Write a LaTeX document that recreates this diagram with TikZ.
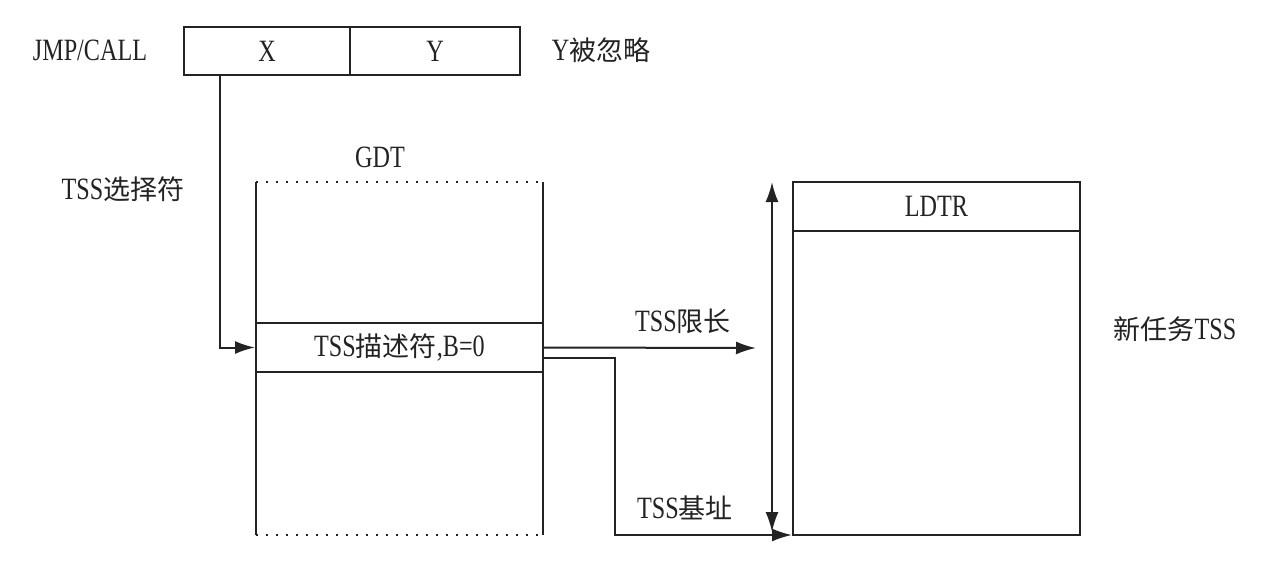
\documentclass[tikz,border=0pt]{standalone}
\usepackage{fontspec}
\setmainfont[FakeStretch=0.78]{Liberation Serif}
\newfontfamily\cjkfont{Noto Sans CJK SC}
\newcommand\zhtxt[1]{{\cjkfont\fontsize{27}{30}\selectfont #1}}
\usetikzlibrary{arrows.meta}
\definecolor{ink}{RGB}{35,35,35}
\begin{document}
\begin{tikzpicture}[x=1pt,y=-1pt,
  lbl/.style={font=\fontsize{31}{34}\selectfont, text=ink, inner sep=0pt},
  boxcell/.style={draw=ink, line width=2pt, minimum height=48pt, inner sep=0pt, font=\fontsize{31}{34}\selectfont, text=ink},
  region/.style={inner sep=0pt, minimum width=287pt, minimum height=353pt},
  conn/.style={draw=ink, line width=2pt},
  arr/.style={conn, -{Latex[length=20pt,width=13pt]}},
  darr/.style={conn, {Latex[length=20pt,width=13pt]}-{Latex[length=20pt,width=13pt]}},
  dotline/.style={draw=ink, line width=2pt, dash pattern=on 2pt off 8pt}
]
\useasboundingbox (0,0) rectangle (1274,566);
\fill[white] (0,0) rectangle (1274,566);

% selector
\node[lbl] (jmp) at (90,50) {JMP/CALL};
\node[boxcell, minimum width=166pt] (selX) at (267,51) {X};
\node[boxcell, minimum width=170pt] (selY) at (435,51) {Y};
\node[lbl] (ign) at (601,50) {Y\zhtxt{被忽略}};

% GDT
\node[lbl] (gdtlbl) at (380,157) {GDT};
\node[region] (gdt) at (399.5,358.5) {};
\draw[conn] (gdt.north west) -- (gdt.south west);
\draw[conn] (gdt.north east) -- (gdt.south east);
\draw[dotline] (gdt.north west) -- (gdt.north east);
\draw[dotline] (gdt.south west) -- (gdt.south east);
\node[boxcell, minimum width=287pt, minimum height=49pt] (desc) at (399.5,347.5) {TSS\zhtxt{描述符},B=0};

\node[lbl] (sellbl) at (123,189) {TSS\zhtxt{选择符}};

% new TSS
\node[region, draw=ink, line width=2pt] (tss) at (936.5,358.5) {};
\node[boxcell, minimum width=287pt, minimum height=49pt] (ldtr) at (936.5,206.5) {LDTR};
\node[lbl] (tsslbl) at (1175,329) {\zhtxt{新任务}TSS};

% connectors
\coordinate (limend) at (756,348);
\coordinate (sztop) at (772,182);
\coordinate (szbot) at (772,532);

\draw[arr] ([xshift=-47pt]selX.south) |- (desc.west);
\draw[arr] (desc.east) -- (limend);
\node[lbl] (limlbl) at (683,321) {TSS\zhtxt{限长}};
\draw[arr] ([yshift=-10pt]desc.east) -- ++(71,0) |- ([yshift=1pt]tss.south west);
\node[lbl] (baselbl) at (685,508) {TSS\zhtxt{基址}};
\draw[darr] (sztop) -- (szbot);
\end{tikzpicture}
\end{document}
